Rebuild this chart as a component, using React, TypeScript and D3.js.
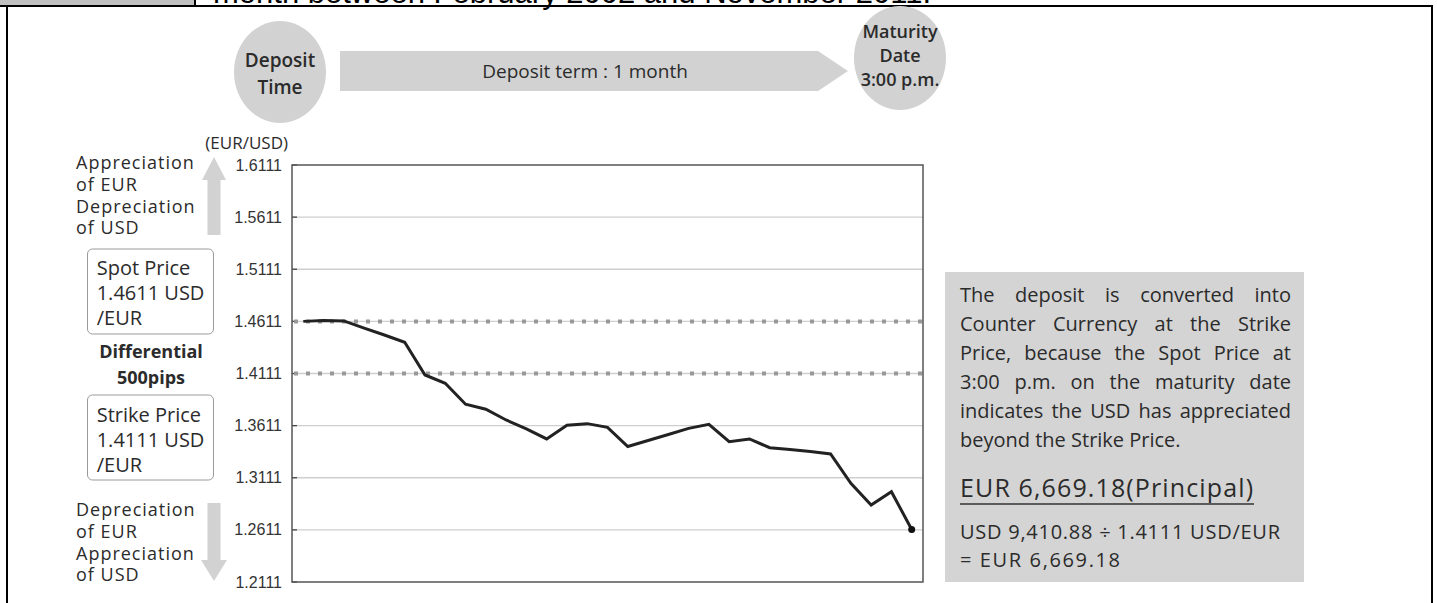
import React from "react";
import * as d3 from "d3";

// daily EUR/USD closes over the 1-month deposit term
const days = d3.range(31);
const rates = [
  1.4611, 1.462, 1.4615, 1.4547, 1.448, 1.441, 1.4097, 1.4017, 1.3816, 1.3768,
  1.3665, 1.3579, 1.3483, 1.3614, 1.363, 1.3595, 1.3411, 1.3468, 1.3526, 1.3585,
  1.3624, 1.3457, 1.3483, 1.3399, 1.3382, 1.3363, 1.3339, 1.3058, 1.285, 1.2977,
  1.2615,
];
const yTicks = [1.6111, 1.5611, 1.5111, 1.4611, 1.4111, 1.3611, 1.3111, 1.2611, 1.2111];
const spotPrice = 1.4611;
const strikePrice = 1.4111;

const noteLines = [
  "The deposit is converted into",
  "Counter Currency at the Strike",
  "Price, because the Spot Price at",
  "3:00 p.m. on the maturity date",
  "indicates the USD has appreciated",
  "beyond the Strike Price.",
];

const SANS = "'Open Sans', 'Noto Sans', sans-serif";
const ARIAL = "'Liberation Sans', Arial, sans-serif";
const INK = "#2b2b2b";
const GRAY = "#d2d2d2";

let ctx: CanvasRenderingContext2D | null = null;
function measure(txt: string, font: string) {
  if (!ctx) ctx = document.createElement("canvas").getContext("2d");
  if (!ctx) return txt.length * 9;
  ctx.font = font;
  return ctx.measureText(txt).width;
}

// spread words of a line between x0 and x1 (justified text)
function Justified({ line, x0, x1, y, size }: any) {
  const font = `${size}px 'Open Sans'`;
  const words = line.split(" ");
  const widths = words.map((w: string) => measure(w, font));
  const total = d3.sum(widths);
  let gap = (x1 - x0 - total) / (words.length - 1);
  if (gap < 3) gap = measure(" ", font);
  let x = x0;
  return (
    <g>
      {words.map((w: string, i: number) => {
        const el = (
          <text key={i} x={x} y={y} dy="0.35em">
            {w}
          </text>
        );
        x += widths[i] + gap;
        return el;
      })}
    </g>
  );
}

export default function App() {
  const W = 1437;
  const H = 603;
  const plot = { left: 292, right: 923, top: 165, bottom: 582 };

  const x = d3.scaleLinear().domain([0, 30]).range([303.3, 911.7]);
  const y = d3.scaleLinear().domain([1.2111, 1.6111]).range([plot.bottom, plot.top]);
  const line = d3
    .line<number>()
    .x((_, i) => x(days[i]))
    .y((d) => y(d));

  const last = rates.length - 1;

  return (
    <svg
      width={W}
      height={H}
      style={{ position: "absolute", left: 0, top: 0, background: "#fff" }}
      fontFamily={SANS}
    >
      {/* table header remnants */}
      <rect x={0} y={0} width={195} height={6} fill="#c0c0c0" />
      <text x={213} y={3} fontFamily={ARIAL} fontSize={31} fill="#000">
        month between February 2002 and November 2011.
      </text>
      <line x1={195} x2={195} y1={0} y2={7} stroke="#000" strokeWidth={2} />
      <line x1={0} x2={1433} y1={6} y2={6} stroke="#000" strokeWidth={2} />
      <line x1={7} x2={7} y1={5} y2={H} stroke="#000" strokeWidth={2} />
      <line x1={1432} x2={1432} y1={5} y2={H} stroke="#000" strokeWidth={2} />

      {/* term banner */}
      <ellipse cx={280} cy={72} rx={46} ry={51} fill={GRAY} />
      <text textAnchor="middle" fontSize={19} fill={INK} fontWeight={600}>
        <tspan x={280} y={60} dy="0.35em">Deposit</tspan>
        <tspan x={280} y={87} dy="0.35em">Time</tspan>
      </text>
      <path d="M340,51 L818,51 L848,71 L818,91 L340,91 Z" fill={GRAY} />
      <text x={585} y={71} dy="0.35em" textAnchor="middle" fontSize={19} fill={INK}>
        Deposit term : 1 month
      </text>
      <ellipse cx={900} cy={58} rx={46} ry={52} fill={GRAY} />
      <text textAnchor="middle" fontSize={18} fill={INK} fontWeight={600}>
        <tspan x={900} y={32} dy="0.35em">Maturity</tspan>
        <tspan x={900} y={56} dy="0.35em">Date</tspan>
        <tspan x={900} y={80} dy="0.35em">3:00 p.m.</tspan>
      </text>

      {/* left side annotations */}
      <text x={288} y={143} dy="0.35em" textAnchor="end" fontSize={17} fill={INK}>
        (EUR/USD)
      </text>
      <g fontSize={18} fill={INK} letterSpacing={1}>
        {["Appreciation", "of EUR", "Depreciation", "of USD"].map((t, i) => (
          <text key={"u" + i} x={76} y={163 + i * 21.7} dy="0.35em">
            {t}
          </text>
        ))}
        {["Depreciation", "of EUR", "Appreciation", "of USD"].map((t, i) => (
          <text key={"d" + i} x={76} y={510 + i * 21.7} dy="0.35em">
            {t}
          </text>
        ))}
      </g>
      <path d="M214,157 L226,180 L220.5,180 L220.5,235 L207.5,235 L207.5,180 L202,180 Z" fill={GRAY} />
      <path d="M207.5,503 L220.5,503 L220.5,560 L227,560 L214,581 L201,560 L207.5,560 Z" fill={GRAY} />

      <rect x={87.5} y={249} width={126} height={85} rx={5} fill="#fff" stroke="#9a9a9a" />
      <g fontSize={20} fill={INK}>
        <text x={96.7} y={268} dy="0.35em">Spot Price</text>
        <text x={96.7} y={293} dy="0.35em">1.4611 USD</text>
        <text x={96.7} y={318} dy="0.35em">/EUR</text>
      </g>
      <text x={151} textAnchor="middle" fontSize={18} fontWeight={700} fill={INK}>
        <tspan x={151} y={352} dy="0.35em">Differential</tspan>
        <tspan x={151} y={378} dy="0.35em">500pips</tspan>
      </text>
      <rect x={87.5} y={395} width={126} height={85} rx={5} fill="#fff" stroke="#9a9a9a" />
      <g fontSize={20} fill={INK}>
        <text x={96.7} y={415} dy="0.35em">Strike Price</text>
        <text x={96.7} y={440} dy="0.35em">1.4111 USD</text>
        <text x={96.7} y={465} dy="0.35em">/EUR</text>
      </g>

      {/* chart */}
      <g>
        {yTicks.map((t) => (
          <g key={t}>
            {t !== yTicks[0] && t !== yTicks[yTicks.length - 1] && (
              <line x1={plot.left} x2={plot.right} y1={y(t)} y2={y(t)} stroke="#cfcfcf" strokeWidth={1.3} />
            )}
            <line x1={plot.left} x2={plot.left + 5} y1={y(t)} y2={y(t)} stroke="#444" strokeWidth={1.3} />
            <text
              x={282}
              y={y(t)}
              dy="0.35em"
              textAnchor="end"
              fontFamily={ARIAL}
              fontSize={16}
              fill="#333"
            >
              {d3.format(".4f")(t)}
            </text>
          </g>
        ))}
        {[spotPrice, strikePrice].map((p) => (
          <line
            key={p}
            x1={plot.left + 2}
            x2={plot.right}
            y1={y(p)}
            y2={y(p)}
            stroke="#999"
            strokeWidth={4}
            strokeDasharray="4 8"
          />
        ))}
        <rect
          x={plot.left}
          y={plot.top}
          width={plot.right - plot.left}
          height={plot.bottom - plot.top}
          fill="none"
          stroke="#555"
          strokeWidth={1.5}
        />
        <path d={line(rates) || ""} fill="none" stroke="#222" strokeWidth={3} strokeLinejoin="miter" />
        <circle cx={x(days[last])} cy={y(rates[last])} r={3.5} fill="#111" />
      </g>

      {/* explanation box */}
      <rect x={945} y={272} width={359} height={310} fill="#d4d4d4" />
      <g fontSize={20} fill={INK}>
        {noteLines.map((l, i) =>
          i < noteLines.length - 1 ? (
            <Justified key={i} line={l} x0={960} x1={1291} y={295 + i * 29} size={20} />
          ) : (
            <text key={i} x={960} y={295 + i * 29} dy="0.35em">
              {l}
            </text>
          )
        )}
        <text x={960} y={488} dy="0.35em" fontSize={25} textLength={293} lengthAdjust="spacing">
          EUR 6,669.18(Principal)
        </text>
        <line x1={960} x2={1254} y1={504} y2={504} stroke="#333" strokeWidth={1.5} />
        <text x={960} y={532} dy="0.35em" textLength={320} lengthAdjust="spacing">
          USD 9,410.88 ÷ 1.4111 USD/EUR
        </text>
        <text x={960} y={560} dy="0.35em" textLength={160} lengthAdjust="spacing">
          = EUR 6,669.18
        </text>
      </g>
    </svg>
  );
}
